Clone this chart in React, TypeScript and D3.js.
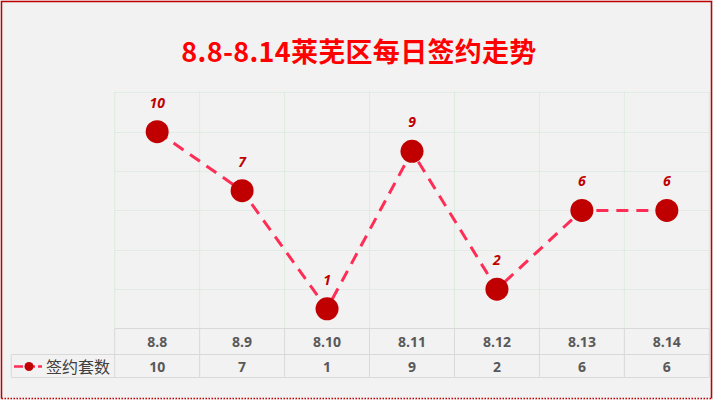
import React, { useEffect, useRef } from 'react'
import * as d3 from 'd3'

const categories = ['8.8', '8.9', '8.10', '8.11', '8.12', '8.13', '8.14']
const values = [10, 7, 1, 9, 2, 6, 6]
const seriesName = '签约套数'
const title = '8.8-8.14莱芜区每日签约走势'
const yTicks = [0, 2, 4, 6, 8, 10, 12]

export default function App() {
  const svgRef = useRef<SVGSVGElement>(null)
  const width = 713
  const height = 400

  useEffect(() => {
    if (!svgRef.current) return
    const svg = d3.select(svgRef.current)
    svg.selectAll('*').remove()

    const plot = { left: 114.7, right: 709.3, top: 92.3, bottom: 328.5 }
    const rowH = [26, 23]

    // background + frame
    svg.append('rect').attr('width', width).attr('height', height).attr('fill', '#f2f2f2')
    svg.append('path')
      .attr('d', `M1.5,398.5 L1.5,1.5 L711.5,1.5 L711.5,398.5`)
      .attr('fill', 'none').attr('stroke', '#c00000').attr('stroke-width', 1.5)
    svg.append('line')
      .attr('x1', 1.5).attr('x2', 711.5).attr('y1', 398.5).attr('y2', 398.5)
      .attr('stroke', '#c00000').attr('stroke-width', 1.5).attr('stroke-dasharray', '1.5,1.5')

    svg.append('text')
      .attr('x', 359).attr('y', 62)
      .attr('text-anchor', 'middle')
      .attr('fill', '#ff0000')
      .attr('font-family', '"Noto Sans CJK SC", sans-serif')
      .attr('font-size', 27)
      .attr('font-weight', 'bold')
      .attr('letter-spacing', 0.3)
      .text(title)

    const x = d3.scaleBand().domain(categories).range([plot.left, plot.right])
    const y = d3.scaleLinear().domain([0, 12]).range([plot.bottom, plot.top])

    // gridlines
    svg.append('g').selectAll('line').data(yTicks.slice(1)).join('line')
      .attr('x1', plot.left).attr('x2', plot.right)
      .attr('y1', d => Math.round(y(d)) + 0.5).attr('y2', d => Math.round(y(d)) + 0.5)
      .attr('stroke', '#e2ebe4').attr('stroke-width', 1)
    const bounds = categories.map(c => x(c)!).concat([plot.right])
    svg.append('g').selectAll('line').data(bounds).join('line')
      .attr('x1', d => d).attr('x2', d => d)
      .attr('y1', plot.top).attr('y2', plot.bottom)
      .attr('stroke', '#c6e6cc').attr('stroke-width', 1).attr('stroke-dasharray', '1,1')

    // table
    const t0 = plot.bottom
    const t1 = t0 + rowH[0]
    const t2 = t1 + rowH[1]
    const legendLeft = 11.3
    const table = svg.append('g').attr('stroke', '#d9d9d9').attr('stroke-width', 1)
    table.append('line').attr('x1', plot.left).attr('x2', plot.right).attr('y1', t0).attr('y2', t0)
    table.append('line').attr('x1', legendLeft).attr('x2', plot.right).attr('y1', t1).attr('y2', t1)
    table.append('line').attr('x1', legendLeft).attr('x2', plot.right).attr('y1', t2).attr('y2', t2)
    table.append('line').attr('x1', legendLeft).attr('x2', legendLeft).attr('y1', t1).attr('y2', t2)
    table.selectAll('line.v').data(bounds).join('line').attr('class', 'v')
      .attr('x1', d => d).attr('x2', d => d).attr('y1', t0).attr('y2', t2)

    const cellText = svg.append('g')
      .attr('font-family', '"Open Sans", "Noto Sans", sans-serif')
      .attr('font-size', 14).attr('font-weight', 'bold').attr('fill', '#595959')
      .attr('text-anchor', 'middle')
    cellText.selectAll('text.c').data(categories).join('text').attr('class', 'c')
      .attr('x', d => x(d)! + x.bandwidth() / 2).attr('y', t0 + 18)
      .text(d => d)
    cellText.selectAll('text.v').data(values).join('text').attr('class', 'v')
      .attr('x', (d, i) => x(categories[i])! + x.bandwidth() / 2).attr('y', t1 + 17)
      .text(d => d)

    // legend key
    const lg = svg.append('g')
    lg.append('line').attr('x1', 14).attr('x2', 42).attr('y1', t1 + 12).attr('y2', t1 + 12)
      .attr('stroke', '#ff2c55').attr('stroke-width', 2.5).attr('stroke-dasharray', '9,3')
    lg.append('circle').attr('cx', 29).attr('cy', t1 + 12).attr('r', 4.5).attr('fill', '#c00000')
    lg.append('text').attr('x', 46).attr('y', t1 + 18)
      .attr('font-family', '"Noto Sans CJK SC", sans-serif')
      .attr('font-size', 16).attr('fill', '#404040')
      .text(seriesName)

    // series
    const cx = (i: number) => x(categories[i])! + x.bandwidth() / 2
    const line = d3.line<number>().x((d, i) => cx(i)).y(d => y(d))
    svg.append('path').datum(values)
      .attr('d', line)
      .attr('fill', 'none').attr('stroke', '#ff2c55').attr('stroke-width', 3)
      .attr('stroke-dasharray', '12,8')
    svg.append('g').selectAll('circle').data(values).join('circle')
      .attr('cx', (d, i) => cx(i)).attr('cy', d => y(d)).attr('r', 11.5)
      .attr('fill', '#c00000')
    svg.append('g').selectAll('text').data(values).join('text')
      .attr('x', (d, i) => cx(i)).attr('y', d => y(d) - 24)
      .attr('text-anchor', 'middle')
      .attr('font-family', '"Open Sans", "Noto Sans", sans-serif')
      .attr('font-size', 14).attr('font-weight', 'bold').attr('font-style', 'italic')
      .attr('fill', '#c00000')
      .text(d => d)
  }, [])

  return (
    <svg ref={svgRef} width={width} height={height}
      style={{ position: 'absolute', left: 0, top: 0, display: 'block' }} />
  )
}
